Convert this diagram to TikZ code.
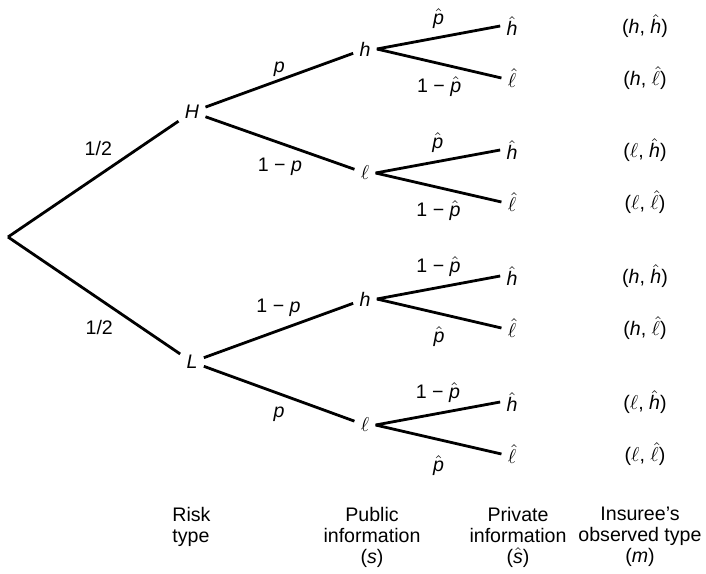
\documentclass[tikz,border=0pt]{standalone}
\usepackage{amsmath}
\usepackage{fontspec}
\setmainfont{Liberation Sans}
\usetikzlibrary{positioning}

\newcommand{\hatit}[1]{$\hat{\mbox{\itshape #1}}$}
\newcommand{\hatell}{$\hat{\ell}$}

\begin{document}
\begin{tikzpicture}[x=0.5pt,y=-0.5pt,
  every node/.style={font=\fontsize{9.8}{10.5}\selectfont},
  branch/.style={line width=1.4pt},
  state/.style={inner sep=3pt},
  leaf/.style={inner sep=3pt},
  prob/.style={inner sep=2pt},
  pair/.style={inner sep=2pt},
  heading/.style={inner sep=0pt, anchor=north, align=center}
]
\useasboundingbox (0,0) rectangle (706,573);

% Risk type
\coordinate (root) at (8,237);
\node[state] (H) at (192,112) {\textit{H}};
\node[state] (L) at (192,362) {\textit{L}};
\draw[branch] (root) -- (H) node[prob, pos=0.53, above=7.5pt] {1/2};
\draw[branch] (root) -- (L) node[prob, pos=0.53, below=8pt] {1/2};

% Public information
\node[state] (Hh) at (365,49) {\textit{h}};
\node[state] (Hl) at (365,173) {$\ell$};
\node[state] (Lh) at (365,299) {\textit{h}};
\node[state] (Ll) at (365,425) {$\ell$};
\draw[branch] (H) -- (Hh) node[prob, midway, above=-1pt] {\textit{p}};
\draw[branch] (H) -- (Hl) node[prob, midway, below=5pt] {1 − \textit{p}};
\draw[branch] (L) -- (Lh) node[prob, midway, above=4.5pt] {1 − \textit{p}};
\draw[branch] (L) -- (Ll) node[prob, midway, below=4pt] {\textit{p}};

% Private information and observed type
\foreach \src/\s/\y/\up/\dn/\ua/\db in {
    Hh/{\textit{h}}/49/{\hatit{p}}/{1 − \hatit{p}}/2pt/4pt,
    Hl/{$\ell$}/173/{\hatit{p}}/{1 − \hatit{p}}/2pt/4pt,
    Lh/{\textit{h}}/299/{1 − \hatit{p}}/{\hatit{p}}/3pt/4pt,
    Ll/{$\ell$}/425/{1 − \hatit{p}}/{\hatit{p}}/3pt/5.5pt} {
  \node[leaf] (\src-h) at (512,\y-23) {\hatit{h}};
  \node[leaf] (\src-l) at (512,\y+29) {\hatell};
  \node[pair] (\src-hm) at (645,\y-23) {(\s, \hatit{h})};
  \node[pair] (\src-lm) at (645,\y+29) {(\s, \hatell)};
  \draw[branch] (\src.east) -- (\src-h.west) node[prob, midway, above=\ua] {\up};
  \draw[branch] (\src.east) -- (\src-l.west) node[prob, midway, below=\db] {\dn};
}

% Stage headings
\node[heading, anchor=north west, align=left] (risk) at (172,507) {Risk\\type};
\node[heading] (public) at (372,507) {Public\\information\\(\textit{s})};
\node[heading] (private) at (518,507) {Private\\information\\(\hatit{s})};
\node[heading] (observed) at (640,507) {Insuree’s\\observed type\\(\textit{m})};

\end{tikzpicture}
\end{document}
